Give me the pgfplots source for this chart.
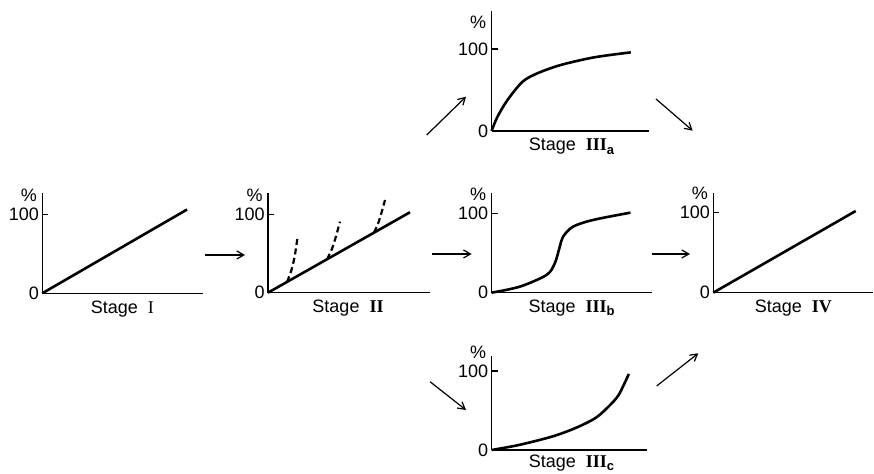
\documentclass[border=0pt]{standalone}
\usepackage{fontspec}
\setmainfont{Liberation Sans}
\newfontfamily\romnum{Liberation Serif}
\usepackage{pgfplots}
\pgfplotsset{compat=1.18}
\usetikzlibrary{arrows.meta}

\newcommand\lbl{\fontsize{9}{10}\selectfont}
\newcommand\sub[1]{\raisebox{-0.35ex}{\fontsize{6.5}{7}\selectfont\bfseries #1}}

\pgfplotsset{
  stage/.style={
    anchor=origin, x=0.5pt, xmin=0, ymin=0,
    axis lines=left, axis line style={-, line width=0.75pt},
    xtick=\empty, ytick={0,100},
    tick align=inside, major tick length=3pt,
    tick style={line width=0.6pt, black},
    yticklabel style={font=\lbl, inner sep=1.5pt},
    /pgf/number format/assume math mode=true,
    clip=false,
  },
  curve/.style={line width=1.3pt, black, no marks, smooth},
  trial/.style={line width=1.1pt, black, no marks, smooth, dash pattern=on 3pt off 1.8pt},
}
\newcommand\stagelabel[2][-3.5pt]{\node[anchor=north, inner sep=0pt, font=\lbl] at (axis cs:80,0) [yshift=#1] {Stage\ \ #2};}
\newcommand\pct[1][6pt]{\node[anchor=south east, inner sep=0pt, font=\lbl] at (axis cs:0,100) [xshift=-2.5pt, yshift=#1] {\%};}
\tikzset{flow/.style={line width=0.6pt, -{Straight Barb[length=3.5pt, width=4pt]}}}

\begin{document}
\begin{tikzpicture}
\useasboundingbox (0,0) rectangle (437pt,237pt);

% Stage I
\begin{axis}[stage, at={(21.15pt,90.35pt)}, xmax=161, ymax=127, y=0.395pt]
  \addplot[curve] coordinates {(0,0) (144.7,106)};
  \pct \stagelabel{{\romnum I}}
\end{axis}

% Stage II
\begin{axis}[stage, at={(134pt,90.65pt)}, xmax=162, ymax=127, y=0.392pt]
  \addplot[curve] coordinates {(0,0) (142,102.6)};
  \addplot[trial] coordinates {(19,13.7) (23,27) (26.5,45) (29.3,68.5)};
  \addplot[trial] coordinates {(59,42.6) (64,56) (68,72) (72,90.6)};
  \addplot[trial] coordinates {(106,76.6) (110,88) (113.5,102) (117,118.2)};
  \pct \stagelabel{{\romnum\bfseries II}}
\end{axis}

% Stage IIIa
\begin{axis}[stage, at={(245.75pt,171.5pt)}, xmax=157, ymax=146, y=0.41pt]
  \addplot[curve] coordinates {(0,0) (6,17.4) (16,37.8) (31,60) (46,70.4) (69.3,80.5) (102.6,89.8) (139.3,95.9)};
  \pct[10pt] \stagelabel{{\romnum\bfseries III}\sub{a}}
\end{axis}

% Stage IIIb
\begin{axis}[stage, at={(245.75pt,90.65pt)}, xmax=160, ymax=126, y=0.397pt]
  \addplot[curve] coordinates {(0,0) (28.3,7.6) (55,22.3) (63.3,37) (68.3,58) (71.6,70.6) (81.6,83.2) (101.6,91.6) (139,100.8)};
  \pct \stagelabel{{\romnum\bfseries III}\sub{b}}
\end{axis}

% Stage IIIc
\begin{axis}[stage, at={(245.75pt,12pt)}, xmax=155, ymax=118.6, y=0.395pt]
  \addplot[curve] coordinates {(0,0) (27.3,6.3) (60.6,17) (84,27.8) (104,40.5) (117.3,55.3) (127.3,70) (137.3,96.2)};
  \pct \stagelabel[-2.2pt]{{\romnum\bfseries III}\sub{c}}
\end{axis}

% Stage IV
\begin{axis}[stage, at={(356.65pt,90.65pt)}, xmax=160, ymax=124.4, y=0.402pt]
  \addplot[curve] coordinates {(0,0) (142.4,101.6)};
  \pct \stagelabel{{\romnum\bfseries IV}}
\end{axis}

% flow arrows
\draw[flow] (102.5pt,109.5pt) -- (122.5pt,109.5pt);
\draw[flow] (215.85pt,110pt) -- (235.85pt,110pt);
\draw[flow] (326pt,110pt) -- (345pt,110pt);
\draw[flow] (213.35pt,169.5pt) -- (233pt,188.65pt);
\draw[flow] (328pt,187.5pt) -- (346.35pt,171.65pt);
\draw[flow] (215pt,46.15pt) -- (233pt,32pt);
\draw[flow] (328.35pt,44pt) -- (349.15pt,60.35pt);
\end{tikzpicture}
\end{document}
